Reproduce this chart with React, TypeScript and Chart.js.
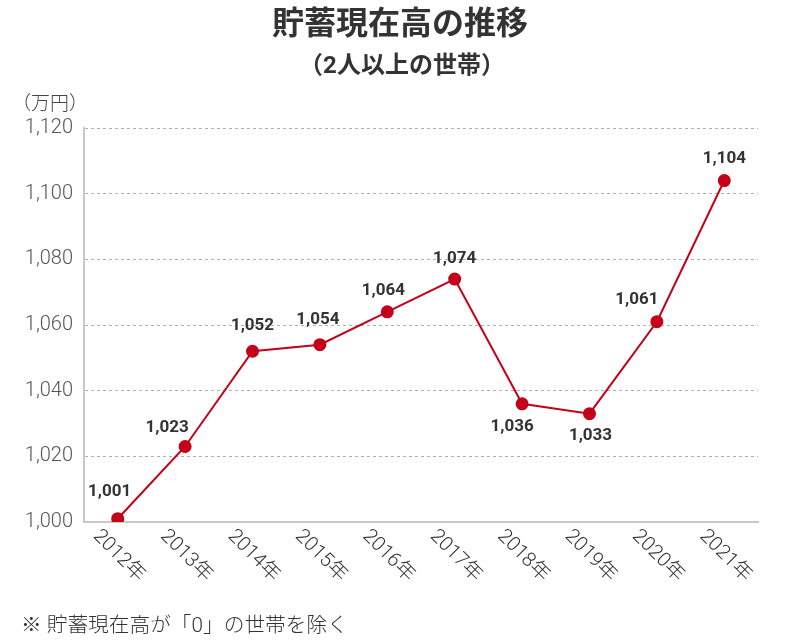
import React, { useEffect, useRef } from "react";
import { Chart, registerables } from "chart.js";

Chart.register(...registerables);

const categories = ["2012年", "2013年", "2014年", "2015年", "2016年", "2017年", "2018年", "2019年", "2020年", "2021年"];
const savings = [1001, 1023, 1052, 1054, 1064, 1074, 1036, 1033, 1061, 1104];
const yTicks = [1000, 1020, 1040, 1060, 1080, 1100, 1120];
const titleText = "貯蓄現在高の推移";
const subtitleText = "（2人以上の世帯）";
const unitText = "（万円）";
const noteText = "※ 貯蓄現在高が「0」の世帯を除く";
// label offsets relative to the point (style only)
const labelOffsets: [number, number][] = [
  [-8, -27], [-18, -19], [0, -26], [-2, -25], [-4, -21],
  [0, -20], [-10, 23], [1, 22], [-20, -22], [0, -22],
];

const FONT = "Roboto, 'Noto Sans CJK JP', sans-serif";
const RED = "#c4001a";

const fmt = (v: number) => v.toLocaleString("en-US");

const decorPlugin = {
  id: "decor",
  afterDraw(chart: any) {
    const ctx = chart.ctx as CanvasRenderingContext2D;
    const xs = chart.scales.x;
    const ys = chart.scales.y;
    const ca = chart.chartArea;
    ctx.save();
    // title
    ctx.fillStyle = "#333";
    ctx.textAlign = "center";
    ctx.textBaseline = "middle";
    ctx.font = `bold 32px ${FONT}`;
    ctx.fillText(titleText, 400, 26);
    ctx.font = `bold 24px ${FONT}`;
    ctx.fillText(subtitleText, 402, 67);
    // unit
    ctx.font = `300 19px ${FONT}`;
    ctx.fillStyle = "#444";
    ctx.textAlign = "left";
    ctx.fillText(unitText, 12, 105);
    // x labels rotated
    ctx.font = `300 20px ${FONT}`;
    ctx.fillStyle = "#333";
    categories.forEach((c, i) => {
      const x = xs.getPixelForValue(i);
      ctx.save();
      ctx.translate(x + 1, ca.bottom + 34);
      ctx.rotate(Math.PI / 4);
      ctx.textAlign = "center";
      ctx.textBaseline = "middle";
      ctx.fillText(c, 0, 0);
      ctx.restore();
    });
    // data labels
    ctx.font = `bold 17px ${FONT}`;
    ctx.fillStyle = "#333";
    ctx.textAlign = "center";
    ctx.textBaseline = "middle";
    savings.forEach((v, i) => {
      const x = xs.getPixelForValue(i);
      const y = ys.getPixelForValue(v);
      const [dx, dy] = labelOffsets[i];
      ctx.fillText(fmt(v), x + dx, y + dy);
    });
    // footnote
    ctx.font = `300 20.7px ${FONT}`;
    ctx.fillStyle = "#333";
    ctx.textAlign = "left";
    ctx.fillText(noteText, 21, 627);
    ctx.restore();
  },
};

export default function App() {
  const ref = useRef<HTMLCanvasElement>(null);
  useEffect(() => {
    document.body.style.margin = "0";
    const chart = new Chart(ref.current!, {
      type: "line",
      data: {
        labels: categories,
        datasets: [
          {
            data: savings,
            borderColor: RED,
            backgroundColor: RED,
            borderWidth: 2,
            pointRadius: 5.5,
            pointBackgroundColor: RED,
            pointBorderColor: RED,
            tension: 0,
          },
        ],
      },
      options: {
        responsive: false,
        animation: false,
        layout: { padding: { top: 128, right: 42, bottom: 118, left: 0 } },
        plugins: {
          legend: { display: false },
          tooltip: { enabled: false },
          title: { display: false },
        },
        scales: {
          x: {
            offset: true,
            grid: { display: false, drawTicks: false },
            border: { display: true, color: "#c8c8c8", width: 2 },
            ticks: { display: false },
          },
          y: {
            min: 1000,
            max: 1120,
            afterFit: (s: any) => { s.width = 84; },
            afterBuildTicks: (s: any) => { s.ticks = yTicks.map((v) => ({ value: v })); },
            grid: {
              color: (c: any) => (c.tick && c.tick.value === 1000 ? "rgba(0,0,0,0)" : "#b0b0b0"),
              drawTicks: false,
              lineWidth: 1,
            },
            border: { display: true, color: "#c8c8c8", width: 2, dash: [3, 3] },
            ticks: {
              color: "#555",
              padding: 11,
              font: { family: FONT, size: 20, weight: "300" },
              callback: (v: any) => fmt(Number(v)),
            },
          },
        },
      },
      plugins: [decorPlugin],
    });
    return () => chart.destroy();
  }, []);
  return <canvas ref={ref} width={800} height={640} style={{ display: "block" }} />;
}
